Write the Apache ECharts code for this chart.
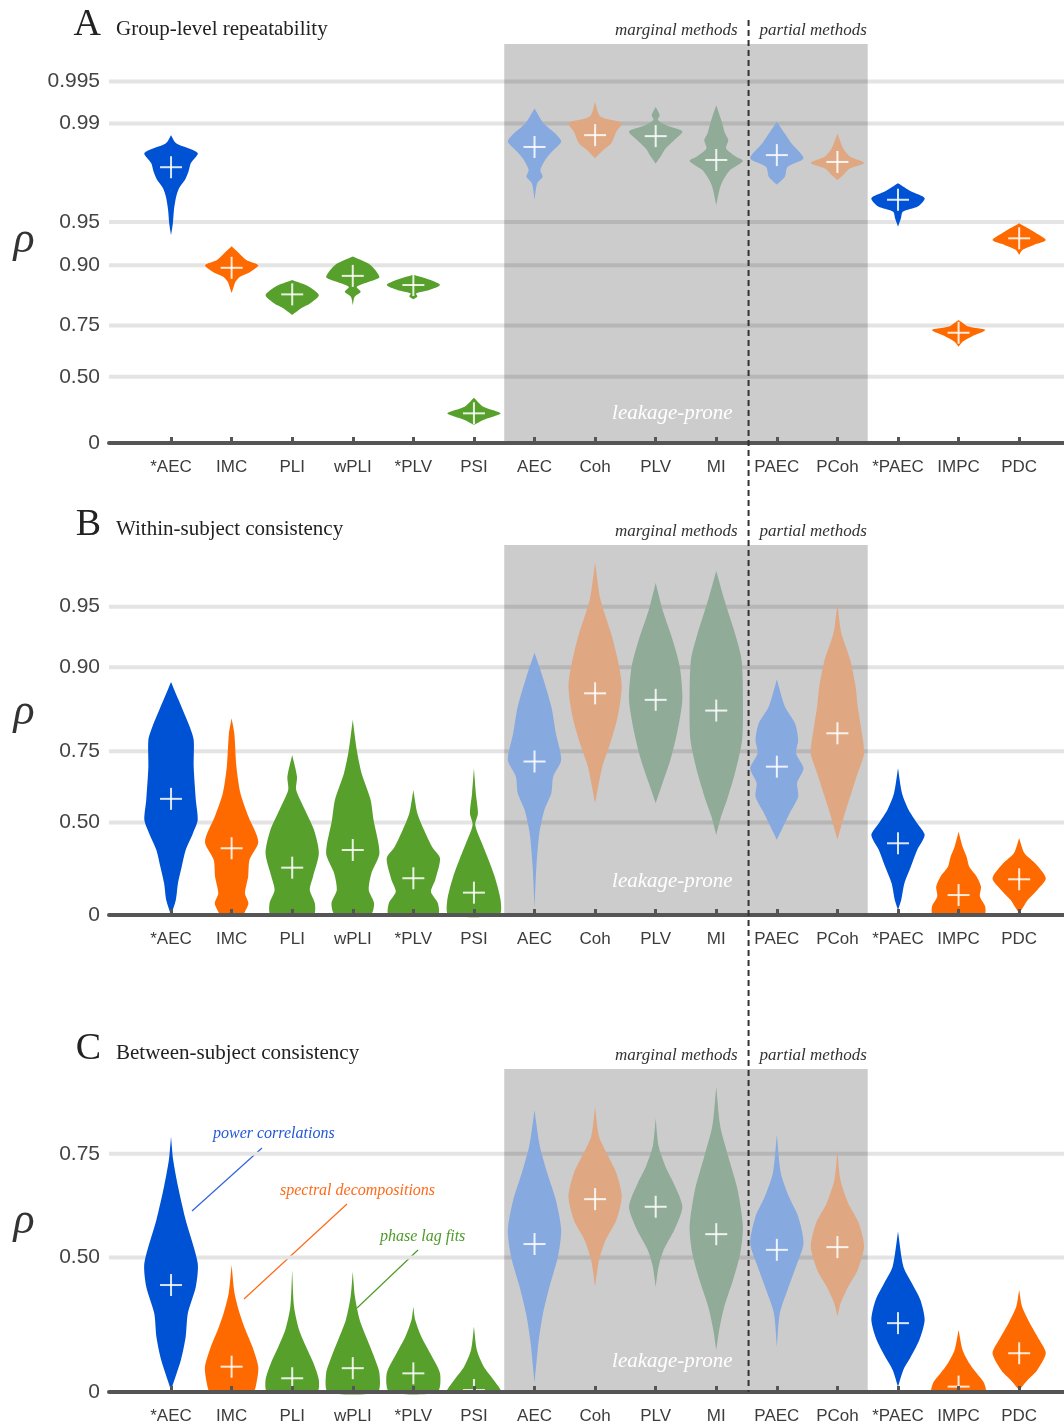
<!DOCTYPE html>
<html>
<head>
<meta charset="utf-8">
<script src="https://cdn.jsdelivr.net/npm/echarts@6/dist/echarts.min.js"></script>
<style>
html, body { margin: 0; padding: 0; background: #fff; }
#main { width: 1064px; height: 1425px; }
</style>
</head>
<body>
<div id="main"></div>
<script>
// connectivity measures, left to right
var methods = ['*AEC', 'IMC', 'PLI', 'wPLI', '*PLV', 'PSI', 'AEC', 'Coh', 'PLV', 'MI', 'PAEC', 'PCoh', '*PAEC', 'IMPC', 'PDC'];
var leakageFrom = 'AEC', leakageTo = 'PCoh';
var partialFrom = 'PAEC';

// y tick values (rho) and their labels
var ticksA = [0, 0.5, 0.75, 0.9, 0.95, 0.99, 0.995];
var tickLabelsA = ['0', '0.50', '0.75', '0.90', '0.95', '0.99', '0.995'];
var ticksB = [0, 0.5, 0.75, 0.9, 0.95];
var tickLabelsB = ['0', '0.50', '0.75', '0.90', '0.95'];
var ticksC = [0, 0.5, 0.75];
var tickLabelsC = ['0', '0.50', '0.75'];

// median rho of each violin (the + marks)
var medianA = [0.9795, 0.896, 0.843, 0.882, 0.864, 0.241, 0.9853, 0.9879, 0.9877, 0.9818, 0.9832, 0.9812, 0.9651, 0.7228, 0.9349];
var medianB = [0.598, 0.377, 0.274, 0.368, 0.215, 0.132, 0.722, 0.866, 0.856, 0.838, 0.707, 0.793, 0.402, 0.118, 0.209];
var medianC = [0.411, 0.103, 0.056, 0.097, 0.076, 0.008, 0.540, 0.657, 0.639, 0.568, 0.523, 0.531, 0.274, 0.022, 0.157];

// violin outlines: [rho, relative density], top to bottom
var profilesA = [
    [[0.9879,0],[0.9862,0.19],[0.9838,1],[0.9808,0.74],[0.9778,0.65],[0.9747,0.52],[0.9711,0.3],[0.9666,0.19],[0.9588,0.11],[0.9492,0.07],[0.9381,0]],
    [[0.926,0],[0.918,0.26],[0.908,0.55],[0.900,1],[0.889,0.7],[0.880,0.3],[0.871,0.15],[0.864,0.1],[0.846,0]],
    [[0.874,0],[0.860,0.65],[0.841,1],[0.820,0.67],[0.807,0.35],[0.786,0]],
    [[0.913,0],[0.901,0.65],[0.880,1],[0.871,0.63],[0.860,0.15],[0.849,0.3],[0.837,0.07],[0.815,0]],
    [[0.884,0],[0.874,0.65],[0.864,1],[0.853,0.6],[0.845,0.1],[0.838,0.15],[0.831,0]],
    [[0.358,0],[0.292,0.35],[0.241,1],[0.188,0.35],[0.148,0]],
    [[0.9922,0],[0.9901,0.33],[0.9882,0.78],[0.9865,1],[0.9841,0.65],[0.9818,0.4],[0.9785,0.22],[0.976,0.3],[0.9733,0.1],[0.9651,0]],
    [[0.993,0],[0.9911,0.2],[0.9901,1],[0.9886,0.8],[0.9861,0.6],[0.9845,0.3],[0.9823,0]],
    [[0.9924,0],[0.9913,0.15],[0.9906,0.08],[0.9897,0.4],[0.9886,1],[0.9869,0.7],[0.9849,0.37],[0.9827,0.18],[0.9807,0]],
    [[0.9926,0],[0.9901,0.22],[0.9882,0.33],[0.9869,0.45],[0.9849,0.37],[0.9827,0.74],[0.9815,1],[0.9785,0.52],[0.9754,0.3],[0.9718,0.15],[0.9619,0]],
    [[0.9903,0],[0.9882,0.3],[0.9861,0.55],[0.9823,1],[0.9796,0.4],[0.976,0.3],[0.9727,0]],
    [[0.9882,0],[0.9849,0.22],[0.9827,0.48],[0.9809,1],[0.979,0.45],[0.9767,0.22],[0.9747,0]],
    [[0.9733,0],[0.9696,0.48],[0.966,1],[0.961,0.74],[0.9576,0.18],[0.9529,0.11],[0.946,0]],
    [[0.7697,0],[0.7462,0.37],[0.7332,1],[0.7069,0.48],[0.6856,0.15],[0.663,0]],
    [[0.9489,0],[0.9414,0.55],[0.933,1],[0.9276,0.55],[0.9216,0.12],[0.9152,0]]
];
var profilesB = [
    [[0.882,0],[0.856,0.28],[0.807,0.7],[0.778,0.85],[0.707,0.85],[0.594,0.93],[0.511,1],[0.450,0.82],[0.368,0.55],[0.279,0.4],[0.186,0.26],[0.089,0.18],[0,0]],
    [[0.824,0],[0.793,0.1],[0.707,0.18],[0.619,0.33],[0.526,0.63],[0.410,1],[0.316,0.67],[0.224,0.62],[0.128,0.5],[0.070,0.63],[0.02,0.5],[0,0.4]],
    [[0.740,0],[0.676,0.18],[0.631,0.15],[0.554,0.48],[0.466,0.82],[0.351,1],[0.224,0.78],[0.148,0.66],[0.070,0.85],[0,0.8]],
    [[0.821,0],[0.753,0.15],[0.687,0.33],[0.594,0.67],[0.511,0.78],[0.351,1],[0.243,0.7],[0.148,0.6],[0.070,0.8],[0,0.66]],
    [[0.631,0],[0.540,0.15],[0.466,0.4],[0.385,0.7],[0.325,1],[0.205,0.82],[0.137,0.66],[0.070,0.92],[0,0.92]],
    [[0.702,0],[0.619,0.07],[0.540,0.15],[0.489,0.05],[0.402,0.3],[0.316,0.55],[0.224,0.78],[0.089,1],[0,0.95]],
    [[0.915,0],[0.889,0.3],[0.845,0.63],[0.793,0.8],[0.726,1],[0.676,0.7],[0.619,0.63],[0.554,0.37],[0.450,0.18],[0.279,0.07],[0.04,0]],
    [[0.970,0],[0.954,0.2],[0.932,0.6],[0.908,0.85],[0.876,1],[0.827,0.85],[0.770,0.57],[0.707,0.27],[0.581,0]],
    [[0.962,0],[0.948,0.26],[0.927,0.63],[0.901,0.9],[0.856,1],[0.793,0.8],[0.726,0.55],[0.655,0.26],[0.581,0]],
    [[0.967,0],[0.954,0.3],[0.932,0.7],[0.908,0.95],[0.856,1],[0.778,0.97],[0.687,0.7],[0.594,0.4],[0.526,0.18],[0.442,0]],
    [[0.885,0],[0.845,0.3],[0.814,0.68],[0.778,0.8],[0.745,0.72],[0.702,1],[0.655,0.76],[0.606,0.8],[0.540,0.48],[0.419,0]],
    [[0.952,0],[0.932,0.15],[0.908,0.48],[0.876,0.68],[0.845,0.76],[0.807,0.88],[0.745,1],[0.687,0.76],[0.619,0.52],[0.540,0.28],[0.419,0]],
    [[0.702,0],[0.619,0.15],[0.554,0.4],[0.497,0.72],[0.442,1],[0.368,0.72],[0.279,0.48],[0.186,0.24],[0.089,0.12],[0.03,0]],
    [[0.458,0],[0.385,0.15],[0.333,0.3],[0.279,0.4],[0.224,0.68],[0.167,0.84],[0.109,0.8],[0.049,1],[0,0.96]],
    [[0.427,0],[0.351,0.2],[0.298,0.6],[0.215,1],[0.148,0.68],[0.089,0.32],[0.049,0.16],[0.01,0]]
];
var profilesC = [
    [[0.779,0],[0.739,0.08],[0.686,0.26],[0.606,0.55],[0.483,1],[0.405,0.93],[0.311,0.63],[0.222,0.55],[0.130,0.37],[0.008,0]],
    [[0.477,0],[0.383,0.11],[0.311,0.3],[0.248,0.52],[0.183,0.78],[0.103,1],[0.036,0.93],[0,0.8]],
    [[0.461,0],[0.335,0.07],[0.248,0.26],[0.183,0.52],[0.117,0.8],[0.049,1],[0,0.93]],
    [[0.455,0],[0.371,0.08],[0.286,0.26],[0.209,0.55],[0.143,0.8],[0.076,1],[0,0.93]],
    [[0.335,0],[0.286,0.07],[0.222,0.3],[0.157,0.63],[0.076,1],[0,0.9]],
    [[0.261,0],[0.170,0.11],[0.103,0.37],[0.049,0.74],[0,1]],
    [[0.818,0],[0.763,0.2],[0.713,0.48],[0.655,0.8],[0.580,1],[0.503,0.88],[0.405,0.56],[0.311,0.32],[0.209,0.16],[0.036,0]],
    [[0.822,0],[0.779,0.15],[0.745,0.5],[0.713,0.8],[0.663,1],[0.606,0.8],[0.552,0.4],[0.492,0.15],[0.405,0]],
    [[0.807,0],[0.763,0.11],[0.726,0.37],[0.693,0.67],[0.639,1],[0.580,0.7],[0.523,0.3],[0.472,0.11],[0.405,0]],
    [[0.847,0],[0.795,0.15],[0.745,0.45],[0.678,0.8],[0.588,1],[0.513,0.9],[0.428,0.63],[0.335,0.3],[0.248,0.11],[0.170,0]],
    [[0.782,0],[0.713,0.15],[0.663,0.45],[0.615,0.8],[0.542,1],[0.472,0.72],[0.394,0.4],[0.311,0.11],[0.183,0]],
    [[0.757,0],[0.700,0.11],[0.648,0.4],[0.598,0.8],[0.533,1],[0.461,0.76],[0.405,0.4],[0.347,0.12],[0.299,0]],
    [[0.575,0],[0.472,0.2],[0.417,0.52],[0.359,0.84],[0.286,1],[0.209,0.8],[0.143,0.48],[0.090,0.2],[0.022,0]],
    [[0.248,0],[0.170,0.15],[0.117,0.4],[0.076,0.68],[0.036,0.96],[0,1]],
    [[0.394,0],[0.335,0.11],[0.274,0.4],[0.209,0.76],[0.157,1],[0.090,0.68],[0.049,0.32],[0.008,0]]
];

// colours per measure
var darkBlue = '#0052d4', orange = '#ff6a00', green = '#58a02c';
var lightBlue = '#86a9e0', peach = '#e0a882', sage = '#90ab98';
var violinColors = [darkBlue, orange, green, green, green, green, lightBlue, peach, sage, sage, lightBlue, peach, darkBlue, orange, orange];

var serif = '"Liberation Serif", "DejaVu Serif", serif';
var sans = '"Liberation Sans", Arial, sans-serif';

var panels = [
    { letter: 'A', title: 'Group-level repeatability', top: 44, height: 399, zMax: 3.306,
      ticks: ticksA, labels: tickLabelsA, medians: medianA, profiles: profilesA },
    { letter: 'B', title: 'Within-subject consistency', top: 545, height: 370, zMax: 2.198,
      ticks: ticksB, labels: tickLabelsB, medians: medianB, profiles: profilesB },
    { letter: 'C', title: 'Between-subject consistency', top: 1069, height: 323, zMax: 1.319,
      ticks: ticksC, labels: tickLabelsC, medians: medianC, profiles: profilesC }
];

// Fisher z: the axis is linear in atanh(rho)
function fz(r) { return Math.atanh(r); }

var catIdx = methods.map(function (m, i) { return i; });
var leakLo = methods.indexOf(leakageFrom) - 0.5;
var leakHi = methods.indexOf(leakageTo) + 0.5;
var splitAt = methods.indexOf(partialFrom) - 0.5;

var grids = [], xAxes = [], yAxes = [], series = [];

panels.forEach(function (p, g) {
    grids.push({ left: 109, right: 0, top: p.top, height: p.height });
    var zt = p.ticks.map(fz);
    xAxes.push({
        type: 'value', gridIndex: g, min: -1.024, max: 14.74, z: 5,
        axisLine: { lineStyle: { color: '#555', width: 4 } },
        axisTick: { customValues: catIdx, inside: true, length: 6, lineStyle: { color: '#555', width: 3 } },
        axisLabel: {
            customValues: catIdx, margin: 16, color: '#3c3c3c', fontSize: 17, fontFamily: sans,
            formatter: function (v) { return methods[Math.round(v)] || ''; }
        },
        splitLine: { show: false }
    });
    yAxes.push({
        type: 'value', gridIndex: g, min: 0, max: p.zMax,
        axisLine: { show: false }, axisTick: { show: false }, splitLine: { show: false },
        axisLabel: {
            customValues: zt, margin: 9, color: '#444', fontSize: 21, fontFamily: sans,
            formatter: function (v) {
                var best = 0;
                zt.forEach(function (z, i) { if (Math.abs(z - v) < Math.abs(zt[best] - v)) best = i; });
                return p.labels[best];
            }
        }
    });
    // horizontal grid lines
    series.push({
        type: 'custom', xAxisIndex: g, yAxisIndex: g, z: 1, silent: true, animation: false,
        data: zt.slice(1).map(function (z) { return [0, z]; }),
        renderItem: function (params, api) {
            var cs = params.coordSys;
            var y = api.coord([0, api.value(1)])[1];
            return { type: 'line', shape: { x1: cs.x, y1: y, x2: cs.x + cs.width, y2: y },
                     style: { stroke: '#e4e4e4', lineWidth: 4 } };
        }
    });
    // leakage-prone shading
    series.push({
        type: 'custom', xAxisIndex: g, yAxisIndex: g, z: 2, silent: true, animation: false,
        data: [[leakLo, leakHi]],
        renderItem: function (params, api) {
            var cs = params.coordSys;
            var x1 = api.coord([api.value(0), 0])[0];
            var x2 = api.coord([api.value(1), 0])[0];
            return { type: 'rect', shape: { x: x1, y: cs.y, width: x2 - x1, height: cs.height },
                     style: { fill: 'rgba(0,0,0,0.2)' } };
        }
    });
    // violins with median crosses
    series.push({
        type: 'custom', xAxisIndex: g, yAxisIndex: g, z: 3, silent: true, animation: false,
        data: catIdx.map(function (i) { return [i, fz(p.medians[i])]; }),
        renderItem: function (params, api) {
            var i = api.value(0);
            var half = api.size([1, 0])[0] * 0.44;
            var cx = api.coord([i, 0])[0];
            var right = [], left = [];
            p.profiles[i].forEach(function (d) {
                var y = api.coord([i, fz(d[0])])[1];
                right.push([cx + d[1] * half, y]);
                left.unshift([cx - d[1] * half, y]);
            });
            var my = api.coord([i, api.value(1)])[1];
            var cross = { stroke: 'rgba(255,255,255,0.85)', lineWidth: 2 };
            return {
                type: 'group',
                children: [
                    { type: 'polygon', shape: { points: right.concat(left), smooth: 0.25 },
                      style: { fill: violinColors[i] } },
                    { type: 'line', shape: { x1: cx - 11, y1: my, x2: cx + 11, y2: my }, style: cross },
                    { type: 'line', shape: { x1: cx, y1: my - 11, x2: cx, y2: my + 11 }, style: cross }
                ]
            };
        }
    });
});

var myChart = echarts.init(document.getElementById('main'));
var option = {
    backgroundColor: '#fff',
    animation: false,
    grid: grids,
    xAxis: xAxes,
    yAxis: yAxes,
    series: series
};
myChart.setOption(option);

// annotations (titles, rho, group labels, dashed separator)
var dashX = myChart.convertToPixel({ xAxisIndex: 0 }, splitAt) + 2;
var graphics = [
    { type: 'line', z: 20, shape: { x1: dashX, y1: 20, x2: dashX, y2: 1392 },
      style: { stroke: '#333', lineWidth: 2, lineDash: [6, 4] } }
];
var titleMid = [25, 525, 1049];
var rhoMid = [240, 712, 1221];
var leakMid = [413, 881, 1361];
panels.forEach(function (p, g) {
    graphics.push(
        { type: 'text', x: 101, y: titleMid[g], style: { text: p.letter, font: '38px ' + serif, fill: '#222', align: 'right', verticalAlign: 'middle' } },
        { type: 'text', x: 116, y: titleMid[g] + 4, style: { text: p.title, font: '21px ' + serif, fill: '#222', align: 'left', verticalAlign: 'middle' } },
        { type: 'text', x: 24, y: rhoMid[g], style: { text: 'ρ', font: 'italic 44px ' + serif, fill: '#333', align: 'center', verticalAlign: 'middle' } },
        { type: 'text', x: dashX - 11, y: p.top - 13, style: { text: 'marginal methods', font: 'italic 17px ' + serif, fill: '#333', align: 'right', verticalAlign: 'middle' } },
        { type: 'text', x: dashX + 11, y: p.top - 13, style: { text: 'partial methods', font: 'italic 17px ' + serif, fill: '#333', align: 'left', verticalAlign: 'middle' } },
        { type: 'text', x: dashX - 16, y: leakMid[g], z: 10, style: { text: 'leakage-prone', font: 'italic 21px ' + serif, fill: '#ffffff', align: 'right', verticalAlign: 'middle' } }
    );
});
graphics.push(
    { type: 'text', x: 213, y: 1134, style: { text: 'power correlations', font: 'italic 16px ' + serif, fill: '#2358d8', align: 'left', verticalAlign: 'middle' } },
    { type: 'line', shape: { x1: 262, y1: 1148, x2: 192, y2: 1211 }, style: { stroke: '#2f64dc', lineWidth: 1.2 } },
    { type: 'text', x: 280, y: 1191, style: { text: 'spectral decompositions', font: 'italic 16px ' + serif, fill: '#ff6a1a', align: 'left', verticalAlign: 'middle' } },
    { type: 'line', shape: { x1: 347, y1: 1204, x2: 244, y2: 1299 }, style: { stroke: '#ff6a1a', lineWidth: 1.2 } },
    { type: 'text', x: 380, y: 1237, style: { text: 'phase lag fits', font: 'italic 16px ' + serif, fill: '#4f9a2a', align: 'left', verticalAlign: 'middle' } },
    { type: 'line', shape: { x1: 418, y1: 1250, x2: 357, y2: 1308 }, style: { stroke: '#4f9a2a', lineWidth: 1.2 } }
);
myChart.setOption({ graphic: graphics });
</script>
</body>
</html>
